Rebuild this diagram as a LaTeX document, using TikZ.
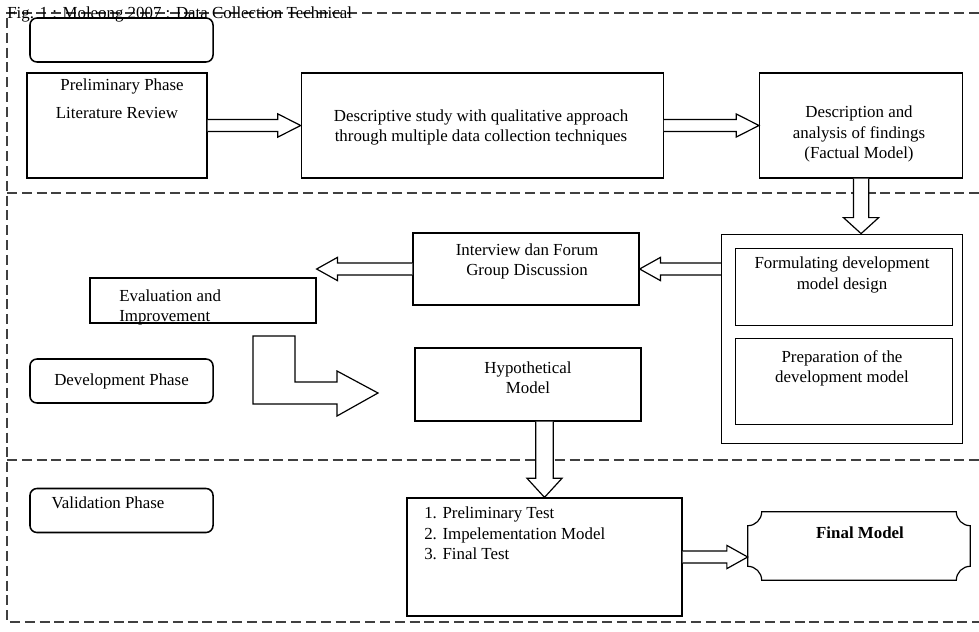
\documentclass[tikz,border=0pt]{standalone}
\usepackage{fontspec}
\setmainfont{Liberation Serif}
\usetikzlibrary{positioning}
\usetikzlibrary{calc}

% block arrow: from, to, half shaft, half head, head length
\newcommand{\fatarrow}[5]{%
  \coordinate (fa) at ($(#2)!#5!(#1)$);
  \draw[fat] ($(#1)!#3!90:(#2)$) -- ($(fa)!#3!90:(#2)$) -- ($(fa)!#4!90:(#2)$) -- (#2)
    -- ($(fa)!#4!-90:(#2)$) -- ($(fa)!#3!-90:(#2)$) -- ($(#1)!#3!-90:(#2)$);
}

\begin{document}
\begin{tikzpicture}[x=0.025cm, y=-0.025cm, font=\fontsize{12}{14.3}\selectfont,
	box/.style={draw, line width=0.85pt, inner sep=0pt},
	phase/.style={draw, line width=1.1pt, rounded corners=5pt, minimum width=4.575cm, minimum height=1.1cm, inner sep=0pt},
	txt/.style={align=center, inner sep=0pt},
	frame/.style={line width=1.3pt, black!75, dash pattern=on 0.25cm off 0.12cm},
	fat/.style={draw, fill=white, line width=0.85pt, line join=miter}]
			\useasboundingbox (0,0) rectangle (979,631);
			
			\draw[frame] (979,13) -- (7,13) -- (7,622) -- (979,622);
			\draw[frame] (7,193) -- (979,193);
			\draw[frame] (7,460) -- (979,460);
			
			% preliminary phase
			\node[phase] (top) at (121.5,40) {};
			\node[box, minimum width=4.5cm, minimum height=2.625cm] (prelim) at (117,125.5) {};
			\node[box, minimum width=9.05cm, minimum height=2.625cm, right=2.325cm of prelim] (desc) {};
			\node[box, minimum width=5.075cm, minimum height=2.625cm, right=2.375cm of desc] (find) {};
			\node[txt] (prelimA) at (122,86) {Preliminary Phase};
			\node[txt] (prelimB) at (117,113) {Literature Review};
			\node[txt] (descT) at (481,127.5) {Descriptive study with qualitative approach\\through multiple data collection techniques};
			\node[txt] (findT) at (859,134) {Description and\\analysis of findings\\(Factual Model)};
			
			% development phase
			\node[box, minimum width=6.025cm, minimum height=5.225cm, below=1.375cm of find.south east, anchor=north east] (outer) {};
			\node[box, minimum width=5.425cm, minimum height=1.925cm, below left=0.35cm and 0.25cm of outer.north east] (form) {};
			\node[box, minimum width=5.425cm, minimum height=2.15cm, below=0.3cm of form] (prep) {};
			\node[box, minimum width=5.65cm, minimum height=1.8cm] (inter) at (526,269) {};
			\node[box, minimum width=5.65cm, minimum height=1.125cm] (eval) at (203,300.5) {};
			\node[box, minimum width=5.65cm, minimum height=1.825cm] (hyp) at (528,384.5) {};
			\node[phase] (devph) at (121.5,381) {Development Phase};
			\node[txt] (formT) at (842,275) {Formulating development\\model design};
			\node[txt] (prepT) at (842,368) {Preparation of the\\development model};
			\node[txt] (interT) at (527,261) {Interview dan Forum\\Group Discussion};
			\node[txt, align=left, anchor=west] (evalT) at (119,307) {Evaluation and\\Improvement};
			\node[txt] (hypT) at (528,378) {Hypothetical\\Model};
			
			% validation phase
			\node[phase] (valph) at (121.5,510.5) {};
			\node[txt] (valT) at (108,503) {Validation Phase};
			\node[box, minimum width=6.875cm, minimum height=2.95cm] (list) at (544.5,557) {};
			\node[txt, align=left, anchor=north west] (listT) at (424,507) {1. Preliminary Test\\2. Impelementation Model\\3. Final Test};
			\node[inner sep=0pt, minimum width=5.55cm, minimum height=1.7cm] (final) at (859,546) {};
			\draw[line width=0.85pt] ([xshift=0.35cm]final.north west) -- ([xshift=-0.35cm]final.north east)
				arc[start angle=180, end angle=270, radius=0.35cm] -- ([yshift=0.35cm]final.south east)
				arc[start angle=90, end angle=180, radius=0.35cm] -- ([xshift=0.35cm]final.south west)
				arc[start angle=0, end angle=90, radius=0.35cm] -- ([yshift=-0.35cm]final.north west)
				arc[start angle=270, end angle=360, radius=0.35cm] -- cycle;
			\node[txt] (finalT) at (860,533) {\bfseries Final Model};
			
			\node[anchor=base west, inner sep=0pt] (caption) at (7,19) {Fig. 1 : Moleong 2007 : Data Collection Technical};
			
			% arrows
			\fatarrow{prelim.east}{desc.west}{0.15cm}{0.29cm}{0.57cm}
			\fatarrow{desc.east}{find.west}{0.15cm}{0.29cm}{0.57cm}
			\coordinate (outertip) at (find.south |- outer.north);
			\fatarrow{find.south}{outertip}{0.19cm}{0.44cm}{0.4cm}
			\coordinate (outertail) at (inter.east -| outer.west);
			\fatarrow{outertail}{inter.east}{0.15cm}{0.29cm}{0.52cm}
			\coordinate (evaltip) at (inter.west -| eval.east);
			\fatarrow{inter.west}{evaltip}{0.15cm}{0.29cm}{0.52cm}
			\coordinate (hyptail) at (list.north |- hyp.south);
			\fatarrow{hyptail}{list.north}{0.22cm}{0.44cm}{0.48cm}
			\coordinate (finaltip) at (list.east -| final.west);
			\fatarrow{list.east}{finaltip}{0.15cm}{0.29cm}{0.52cm}
			\draw[fat] (253,336) -- (295,336) -- (295,382) -- (337,382) -- (337,371) -- (378,393)
				-- (337,416) -- (337,404) -- (253,404) -- cycle;
\end{tikzpicture}
\end{document}
